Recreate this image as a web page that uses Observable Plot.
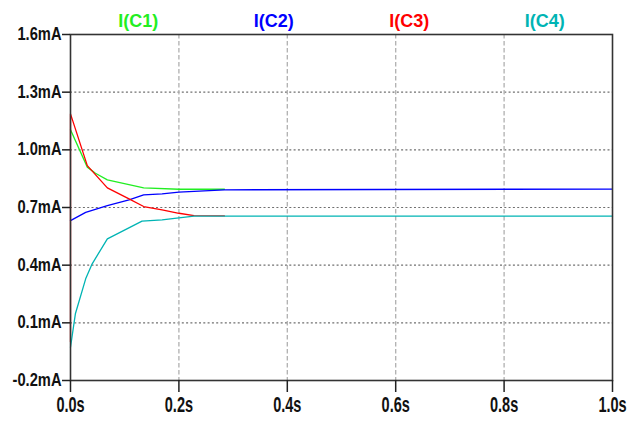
<!DOCTYPE html>
<html>
<head>
<meta charset="utf-8">
<script src="https://cdn.jsdelivr.net/npm/d3@7"></script>
<script src="https://cdn.jsdelivr.net/npm/@observablehq/plot@0.6"></script>
<style>
  html, body { margin: 0; padding: 0; background: #fff; }
  #chart svg { display: block; background: #fff; }
</style>
</head>
<body>
<div id="chart"></div>
<script>
// Series names and colours
const seriesNames = ["I(C1)", "I(C2)", "I(C3)", "I(C4)"];
const seriesColors = ["#22ee22", "#0000ff", "#ff0000", "#00b4b4"];

// I(C1)
const c1Time = [0, 0.031, 0.046, 0.068, 0.135, 0.2, 0.284];
const c1Value = [1.104, 0.91, 0.878, 0.844, 0.802, 0.795, 0.795];

// I(C2)
const c2Time = [0, 0.028, 0.068, 0.108, 0.135, 0.169, 0.2, 0.284, 1.0];
const c2Value = [0.632, 0.675, 0.71, 0.74, 0.766, 0.771, 0.78, 0.792, 0.796];

// I(C3)
const c3Time = [0, 0, 0.022, 0.031, 0.068, 0.108, 0.135, 0.169, 0.2, 0.228, 0.284];
const c3Value = [0, 1.187, 0.996, 0.918, 0.802, 0.745, 0.705, 0.688, 0.67, 0.658, 0.656];

// I(C4)
const c4Time = [0, 0.009, 0.028, 0.04, 0.068, 0.132, 0.169, 0.2, 0.228, 1.0];
const c4Value = [-0.027, 0.147, 0.329, 0.407, 0.537, 0.629, 0.636, 0.646, 0.655, 0.655];

// Axis ticks
const xTicks = [0, 0.2, 0.4, 0.6, 0.8, 1.0];
const yTicks = [-0.2, 0.1, 0.4, 0.7, 1.0, 1.3, 1.6];
const xDomain = [0, 1];
const yDomain = [-0.2, 1.6];

const seriesTimes = [c1Time, c2Time, c3Time, c4Time];
const seriesValues = [c1Value, c2Value, c3Value, c4Value];
const rows = [];
seriesNames.forEach((name, s) => {
  seriesTimes[s].forEach((t, i) => rows.push({series: name, t, v: seriesValues[s][i]}));
});

const font = "'Liberation Sans', Arial, sans-serif";
const n = seriesNames.length;

const chart = Plot.plot({
  width: 635,
  height: 421,
  marginLeft: 70,
  marginRight: 23,
  marginTop: 34,
  marginBottom: 41,
  style: {fontFamily: font, background: "#fff"},
  x: {domain: xDomain},
  y: {domain: yDomain},
  color: {domain: seriesNames, range: seriesColors},
  marks: [
    Plot.ruleY(yTicks.slice(1, -1), {stroke: "#707070", strokeDasharray: "2,2.3", strokeWidth: 1.2}),
    Plot.ruleX(xTicks.slice(1, -1), {stroke: "#b0b0b0", strokeDasharray: "4.5,2.5", strokeWidth: 1.3}),
    Plot.line(rows, {x: "t", y: "v", z: "series", stroke: "series", strokeWidth: 1.3}),
    Plot.frame({stroke: "#333", strokeWidth: 1.6}),
    Plot.axisY({ticks: yTicks, tickFormat: d => d.toFixed(1) + "mA", tickSize: 8, tickPadding: 1,
      stroke: "#222", strokeWidth: 1.5, fontSize: 17.5, fontWeight: "bold", fill: "#111", label: null}),
    Plot.axisX({ticks: xTicks, tickFormat: d => d.toFixed(1) + "s", tickSize: 12, tickPadding: 4,
      stroke: "#222", strokeWidth: 1.5, fontSize: 22, fontWeight: "bold", fill: "#111", label: null}),
    Plot.text(seriesNames, {
      x: (d, i) => xDomain[0] + (i + 0.5) / n * (xDomain[1] - xDomain[0]),
      y: () => yDomain[1],
      text: d => d,
      fill: (d, i) => seriesColors[i],
      fontSize: 18,
      fontWeight: "bold",
      textAnchor: "middle",
      lineAnchor: "bottom",
      dy: -8,
      ariaLabel: "legend"
    })
  ]
});
document.getElementById("chart").appendChild(chart);

// Condense text horizontally to mimic the narrow font of the original
function condense(sel, sx) {
  chart.querySelectorAll(sel).forEach(el => {
    const tr = el.getAttribute("transform");
    if (tr) {
      el.setAttribute("transform", tr + ` scale(${sx},1)`);
    } else {
      const w = el.getComputedTextLength();
      el.setAttribute("textLength", w * sx);
      el.setAttribute("lengthAdjust", "spacingAndGlyphs");
    }
  });
}
condense('g[aria-label="y-axis tick label"] text', 0.84);
condense('g[aria-label="x-axis tick label"] text', 0.66);
condense('g[aria-label="legend"] text', 0.8);
</script>
</body>
</html>
